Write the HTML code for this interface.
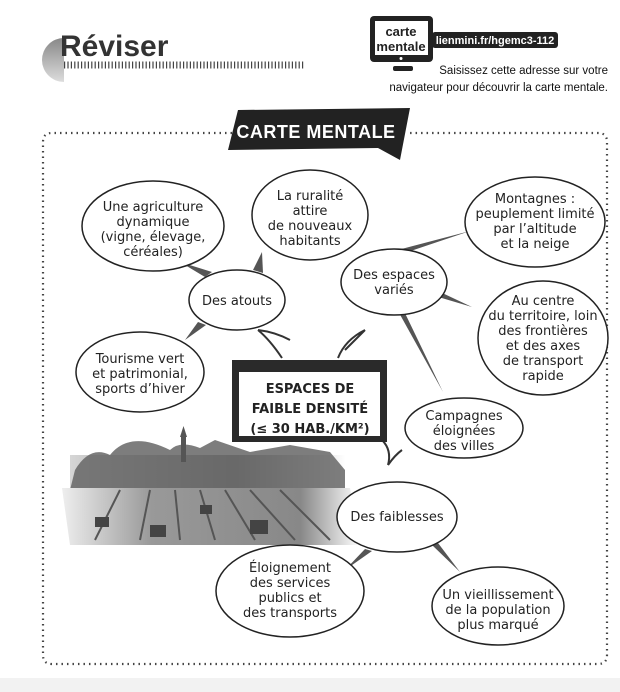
<!DOCTYPE html>
<html><head><meta charset="utf-8">
<style>
html,body{margin:0;padding:0;background:#fff;}
body{width:620px;height:692px;overflow:hidden;position:relative;font-family:"Liberation Sans",sans-serif;}
svg{position:absolute;left:0;top:0;}
.t{font-family:"DejaVu Sans","Liberation Sans",sans-serif;font-size:13px;fill:#222;text-anchor:middle;}
</style></head><body>
<svg width="620" height="692" viewBox="0 0 620 692">
<defs>
<linearGradient id="sky" x1="0" y1="0" x2="1" y2="0"><stop offset="0" stop-color="#ccc"/><stop offset="0.6" stop-color="#555"/><stop offset="1" stop-color="#fff"/></linearGradient>
<linearGradient id="field" x1="0" y1="0" x2="1" y2="0"><stop offset="0" stop-color="#eee"/><stop offset="0.3" stop-color="#999"/><stop offset="0.8" stop-color="#888"/><stop offset="1" stop-color="#fff"/></linearGradient>
<linearGradient id="disc" x1="0" y1="0" x2="0" y2="1"><stop offset="0" stop-color="#888"/><stop offset="1" stop-color="#ddd"/></linearGradient>
</defs>
<rect x="0" y="678" width="620" height="14" fill="#f2f2f2"/>
<!-- header -->
<path d="M64,38 A22,22 0 0 0 64,82 Z" fill="url(#disc)"/>
<text x="60" y="56" font-family="Liberation Sans" font-weight="bold" font-size="30" fill="#333">Réviser</text>
<line x1="64" y1="65" x2="304" y2="65" stroke="#444" stroke-width="7" stroke-dasharray="1.2 2.2"/>
<!-- monitor -->
<rect x="370" y="16" width="63" height="46" rx="4" fill="#222"/>
<rect x="375" y="21" width="53" height="34" fill="#fff"/>
<circle cx="401" cy="58.5" r="1.5" fill="#fff"/>
<rect x="393" y="66" width="20" height="5" rx="2" fill="#222"/>
<text x="401" y="36" font-size="13" font-weight="bold" text-anchor="middle" fill="#222">carte</text>
<text x="401" y="51" font-size="13" font-weight="bold" text-anchor="middle" fill="#222">mentale</text>
<rect x="432" y="32" width="126" height="16" rx="3" fill="#222"/>
<text x="495" y="44" font-size="11" font-weight="bold" text-anchor="middle" fill="#fff">lienmini.fr/hgemc3-112</text>
<text x="608" y="74" font-size="11.5" text-anchor="end" fill="#111">Saisissez cette adresse sur votre</text>
<text x="608" y="91" font-size="11.5" text-anchor="end" fill="#111">navigateur pour découvrir la carte mentale.</text>
<!-- dotted frame -->
<path d="M232,133 L52,133 Q43,133 43,142 L43,655 Q43,664 52,664 L598,664 Q607,664 607,655 L607,142 Q607,133 598,133 L408,133" fill="none" stroke="#444" stroke-width="2.2" stroke-dasharray="1.5 4"/>
<path d="M238,110 L410,108 L400,160 L378,148 L228,150 Z" fill="#222"/>
<text x="316" y="138" font-size="18" font-weight="bold" text-anchor="middle" fill="#fff" letter-spacing="0.5">CARTE MENTALE</text>
<!-- photo -->
<rect x="70" y="455" width="275" height="35" fill="url(#sky)" opacity="0.8"/>
<path d="M75,470 Q90,445 110,455 Q130,430 170,450 Q180,440 200,448 L215,440 L250,452 L290,445 L330,452 L345,470 L345,490 L70,490 Z" fill="#666" opacity="0.85"/>
<rect x="181" y="437" width="5" height="25" fill="#555"/>
<path d="M180,437 L183.5,426 L187,437 Z" fill="#555"/>
<path d="M62,488 L350,488 L360,545 L70,545 Z" fill="url(#field)"/>
<g stroke="#555" stroke-width="2">
<line x1="120" y1="490" x2="95" y2="540"/><line x1="150" y1="490" x2="140" y2="540"/><line x1="175" y1="490" x2="180" y2="540"/><line x1="200" y1="490" x2="215" y2="540"/><line x1="225" y1="490" x2="255" y2="540"/><line x1="250" y1="490" x2="295" y2="540"/><line x1="280" y1="490" x2="330" y2="540"/>
</g>
<g fill="#444"><rect x="95" y="517" width="14" height="10"/><rect x="150" y="525" width="16" height="12"/><rect x="250" y="520" width="18" height="14"/><rect x="200" y="505" width="12" height="9"/></g>
<!-- connectors -->
<g fill="#555">
<path d="M205,277 L180,262 L212,272 Z"/><path d="M253,270 L262,252 L263,273 Z"/>
<path d="M198,322 L185,340 L206,325 Z"/>
<path d="M375,256 L470,231 L378,262 Z"/><path d="M438,291 L472,307 L435,296 Z"/>
<path d="M398,311 L443,392 L403,309 Z"/>
<path d="M365,549 L345,570 L372,551 Z"/><path d="M432,545 L460,572 L438,543 Z"/>
</g>
<g fill="none" stroke="#333" stroke-width="2">
<path d="M282,358 Q270,340 258,330 M258,330 Q275,332 290,340"/>
<path d="M338,358 Q345,340 365,330 M365,330 Q355,340 345,350"/>
<path d="M382,440 Q392,450 388,465 M388,465 Q395,455 402,450"/>
</g>
<!-- ellipses -->
<g fill="#fff" stroke="#222" stroke-width="1.5">
<ellipse cx="153" cy="226" rx="71" ry="45"/>
<ellipse cx="310" cy="215" rx="58" ry="45"/>
<ellipse cx="237" cy="300" rx="48" ry="30"/>
<ellipse cx="140" cy="372" rx="64" ry="40"/>
<ellipse cx="394" cy="282" rx="53" ry="33"/>
<ellipse cx="535" cy="222" rx="70" ry="45"/>
<ellipse cx="543" cy="338" rx="65" ry="57"/>
<ellipse cx="464" cy="428" rx="59" ry="30"/>
<ellipse cx="397" cy="517" rx="60" ry="35"/>
<ellipse cx="290" cy="591" rx="74" ry="46"/>
<ellipse cx="498" cy="606" rx="66" ry="39"/>
</g>
<!-- central box -->
<rect x="232" y="360" width="155" height="82" fill="#2a2a2a"/>
<rect x="239" y="372" width="141" height="64" fill="#fff"/>
<text x="310" y="393" class="t" font-weight="bold" font-size="14">ESPACES DE</text>
<text x="310" y="413" class="t" font-weight="bold" font-size="14">FAIBLE DENSITÉ</text>
<text x="310" y="433" class="t" font-weight="bold" font-size="14">(≤ 30 HAB./KM²)</text>
<!-- labels -->
<g class="t">
<text x="153" y="211">Une agriculture</text><text x="153" y="226">dynamique</text><text x="153" y="241">(vigne, élevage,</text><text x="153" y="256">céréales)</text>
<text x="310" y="200">La ruralité</text><text x="310" y="215">attire</text><text x="310" y="230">de nouveaux</text><text x="310" y="245">habitants</text>
<text x="237" y="305">Des atouts</text>
<text x="140" y="363">Tourisme vert</text><text x="140" y="378">et patrimonial,</text><text x="140" y="393">sports d’hiver</text>
<text x="394" y="279">Des espaces</text><text x="394" y="294">variés</text>
<text x="535" y="203">Montagnes :</text><text x="535" y="218">peuplement limité</text><text x="535" y="233">par l’altitude</text><text x="535" y="248">et la neige</text>
<text x="543" y="305">Au centre</text><text x="543" y="320">du territoire, loin</text><text x="543" y="335">des frontières</text><text x="543" y="350">et des axes</text><text x="543" y="365">de transport</text><text x="543" y="380">rapide</text>
<text x="464" y="420">Campagnes</text><text x="464" y="435">éloignées</text><text x="464" y="450">des villes</text>
<text x="397" y="521">Des faiblesses</text>
<text x="290" y="572">Éloignement</text><text x="290" y="587">des services</text><text x="290" y="602">publics et</text><text x="290" y="617">des transports</text>
<text x="498" y="599">Un vieillissement</text><text x="498" y="614">de la population</text><text x="498" y="629">plus marqué</text>
</g>
</svg>
</body></html>
